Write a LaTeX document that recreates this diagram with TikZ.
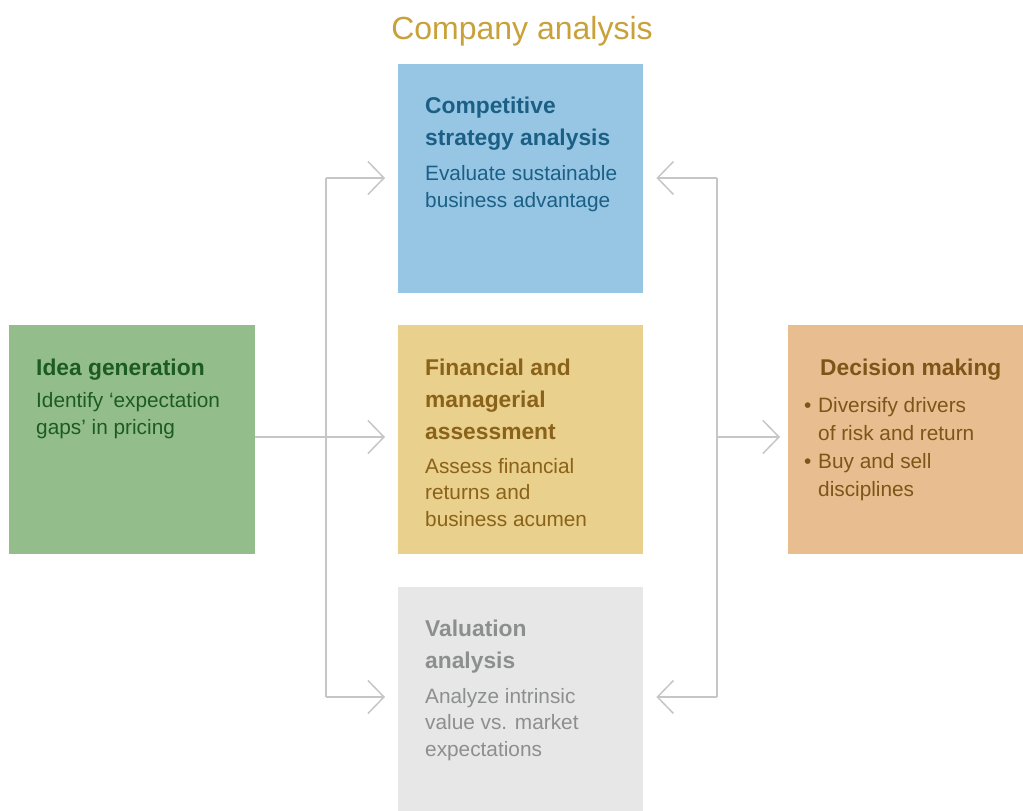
\documentclass[tikz,border=0pt]{standalone}
\usepackage{fontspec}
\setmainfont{Liberation Sans}
\usetikzlibrary{arrows.meta}

\definecolor{linegray}{HTML}{C6C6C6}
\definecolor{titlegold}{HTML}{C9A13A}
\definecolor{ideafill}{HTML}{93BE8B}
\definecolor{ideatext}{HTML}{1D5C21}
\definecolor{compfill}{HTML}{96C6E4}
\definecolor{comptext}{HTML}{1C5F85}
\definecolor{finfill}{HTML}{E9D08D}
\definecolor{fintext}{HTML}{8A621A}
\definecolor{valfill}{HTML}{E6E7E6}
\definecolor{valtext}{HTML}{8D8E8E}
\definecolor{decfill}{HTML}{E8BE91}
\definecolor{dectext}{HTML}{7E5418}

\begin{document}
\begin{tikzpicture}
  [x=1pt,y=-1pt,
   box/.style={rectangle,anchor=north west,inner sep=0pt,minimum width=245pt,minimum height=229pt},
   head/.style={anchor=base west,inner sep=0pt,align=left,font=\fontsize{22.8}{32}\selectfont\bfseries},
   body/.style={anchor=base west,inner sep=0pt,align=left,font=\fontsize{20.8}{26.5}\selectfont},
   conn/.style={draw=linegray,line width=1.5pt},
   flow/.style={conn,-{Straight Barb[length=16pt,width=33pt]},shorten >=13pt}]
  \useasboundingbox (0,0) rectangle (1023,811);

  \node[text=titlegold,font=\fontsize{32}{36}\selectfont,anchor=base] (title) at (522,39) {Company analysis};

  % boxes
  \node[box,fill=ideafill,minimum width=246pt] (idea) at (9,325) {};
  \node[box,fill=compfill] (comp) at (398,64) {};
  \node[box,fill=finfill] (fin) at (398,325) {};
  \node[box,fill=valfill,minimum height=224pt] (val) at (398,587) {};
  \node[box,fill=decfill,minimum width=235pt] (dec) at (788,325) {};

  % texts (base = last line)
  \node[head,text=ideatext] (ideahead) at (36,375) {Idea generation};
  \node[body,text=ideatext] (ideabody) at (36,434) {Identify ‘expectation\\gaps’ in pricing};

  \node[head,text=comptext] (comphead) at (425,145) {Competitive\\strategy analysis};
  \node[body,text=comptext] (compbody) at (425,207) {Evaluate sustainable\\business advantage};

  \node[head,text=fintext] (finhead) at (425,439) {Financial and\\managerial\\assessment};
  \node[body,text=fintext] (finbody) at (425,526) {Assess financial\\returns and\\business acumen};

  \node[head,text=valtext] (valhead) at (425,668) {Valuation\\analysis};
  \node[body,text=valtext] (valbody) at (425,756) {Analyze intrinsic\\value vs. market\\expectations};

  \node[head,text=dectext] (dechead) at (820,375) {Decision making};
  \node[body,text=dectext,font=\fontsize{20.8}{28}\selectfont] (decbody) at (804,496)
    {\makebox[14pt][l]{•}Diversify drivers\\\hspace*{14pt}of risk and return\\
     \makebox[14pt][l]{•}Buy and sell\\\hspace*{14pt}disciplines};

  % connectors
  \coordinate (ltop) at (326,178);
  \coordinate (lbot) at (326,697);
  \coordinate (rtop) at (717,178);
  \coordinate (rmid) at (717,437);
  \coordinate (rbot) at (717,697);

  \draw[conn] (ltop) -- (lbot);
  \draw[conn] (rtop) -- (rbot);
  \draw[flow] (idea.east |- rmid) -- (fin.west |- rmid);
  \draw[flow] (ltop) -- (comp.west |- ltop);
  \draw[flow] (lbot) -- (val.west |- lbot);
  \draw[flow] (rtop) -- (comp.east |- rtop);
  \draw[flow] (rbot) -- (val.east |- rbot);
  \draw[flow,shorten >=8pt] (rmid) -- (dec.west |- rmid);
\end{tikzpicture}
\end{document}
